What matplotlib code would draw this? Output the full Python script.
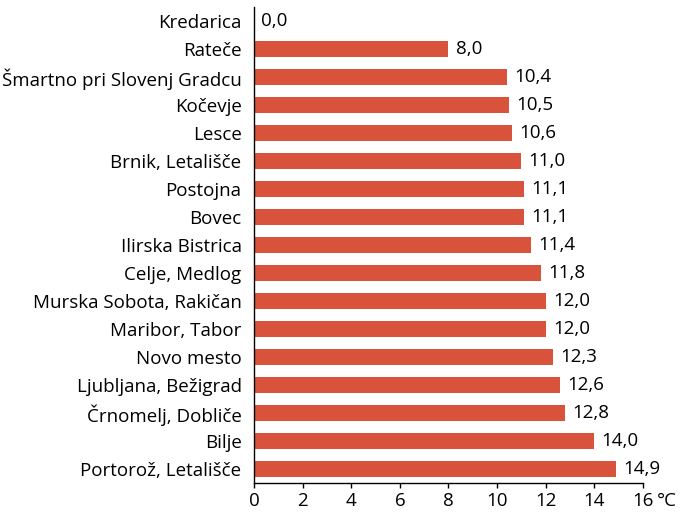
import matplotlib.pyplot as plt
import numpy as np

plt.rcParams['font.family'] = ['Open Sans', 'DejaVu Sans']

stations = ["Kredarica", "Rateče", "Šmartno pri Slovenj Gradcu", "Kočevje", "Lesce",
            "Brnik, Letališče", "Postojna", "Bovec", "Ilirska Bistrica", "Celje, Medlog",
            "Murska Sobota, Rakičan", "Maribor, Tabor", "Novo mesto", "Ljubljana, Bežigrad",
            "Črnomelj, Dobliče", "Bilje", "Portorož, Letališče"]
temps = [0.0, 8.0, 10.4, 10.5, 10.6, 11.0, 11.1, 11.1, 11.4, 11.8, 12.0, 12.0, 12.3, 12.6, 12.8, 14.0, 14.9]
xticks = [0, 2, 4, 6, 8, 10, 12, 14, 16]

fs = 13.5
tick_len, tick_pad = 3.8, 3
fig = plt.figure(figsize=(6.81, 5.12), dpi=100)
ax = fig.add_axes([0.373, 0.0566, 0.571, 0.9297])

y = np.arange(len(stations))
ax.barh(y, temps, height=0.58, color='#d9533c')
for yi, v in zip(y, temps):
    ax.text(v + 0.3, yi, f"{v:.1f}".replace('.', ','), va='center', ha='left', fontsize=fs)

ax.set_ylim(len(stations) - 0.5, -0.5)
ax.set_xlim(0, 16)
ax.set_yticks(y)
ax.set_yticklabels(stations, fontsize=fs)
ax.tick_params(axis='y', length=0, pad=9)
ax.set_xticks(xticks)
ax.set_xticklabels([str(t) for t in xticks], fontsize=fs)
ax.tick_params(axis='x', length=tick_len, width=1, direction='out', pad=tick_pad)
ax.annotate("°C", xy=(16, 0), xycoords=ax.get_xaxis_transform(),
            xytext=(10, -(tick_len + tick_pad)), textcoords='offset points',
            va='top', ha='left', fontsize=fs)

for s in ['top', 'right']:
    ax.spines[s].set_visible(False)
ax.spines['left'].set_linewidth(1)
ax.spines['bottom'].set_linewidth(1)

fig.savefig('out.png', dpi=100)
